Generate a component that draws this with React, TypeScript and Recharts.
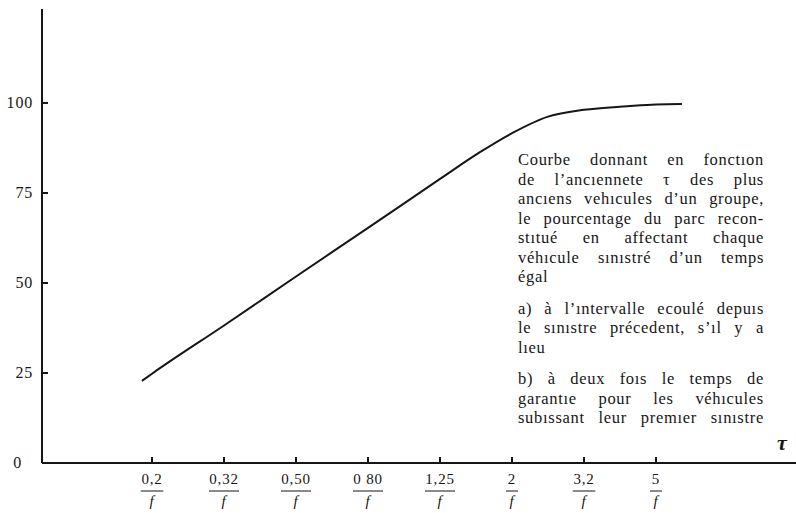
import { Line, LineChart, XAxis, YAxis } from "recharts";

// position of each point along the tau axis (0 = 0,2/f, 1 = 0,32/f, ...)
const tauPos = [-0.14, 0, 1, 2, 3, 4, 4.56, 5, 5.5, 6, 6.6, 7, 7.36];
const pctParc = [22.8, 24.8, 38.2, 51.8, 65.3, 78.9, 86.4, 91.6, 96.2, 98.1, 99.1, 99.6, 99.7];

const tauTicks = [0, 1, 2, 3, 4, 5, 6, 7];
const tauLabels = ["0,2", "0,32", "0,50", "0 80", "1,25", "2", "3,2", "5"];
const pctTicks = [0, 25, 50, 75, 100];

const note: string[][] = [
  [
    "Courbe donnant en fonctıon",
    "de l’ancıennete τ des plus",
    "ancıens vehıcules d’un groupe,",
    "le pourcentage du parc recon-",
    "stıtué en affectant chaque",
    "véhıcule sınıstré d’un temps",
    "égal",
  ],
  ["a) à l’ıntervalle ecoulé depuıs", "le sınıstre précedent, s’ıl y a", "lıeu"],
  ["b) à deux foıs le temps de", "garantıe pour les véhıcules", "subıssant leur premıer sınıstre"],
];

const data = tauPos.map((t, i) => ({ t, pct: pctParc[i] }));
const serif = "'Liberation Serif', monospace";
const ink = "#161616";

function FracTick({ x, y, payload }: any) {
  const num = tauLabels[payload.value] ?? "";
  const w = Math.max(12, num.length * 7.5);
  return (
    <g style={{ fontFamily: serif, letterSpacing: 0.8 }} fill={ink}>
      <line x1={x} x2={x} y1={y} y2={y - 6} stroke={ink} strokeWidth={2} />
      <text x={x} y={y + 21} textAnchor="middle" fontSize={15}>
        {num}
      </text>
      <line x1={x - w / 2} x2={x + w / 2} y1={y + 28} y2={y + 28} stroke={ink} strokeWidth={1} />
      <text x={x} y={y + 43} textAnchor="middle" fontSize={15} fontStyle="italic">
        f
      </text>
    </g>
  );
}

function PctTick({ x, y, payload }: any) {
  const v = payload.value;
  return (
    <g style={{ fontFamily: serif, letterSpacing: 0.8 }} fill={ink}>
      {v !== 0 && <line x1={x} x2={x + 6} y1={y} y2={y} stroke={ink} strokeWidth={2} />}
      <text x={v === 0 ? x - 20 : x - 9} y={y + 5} textAnchor="end" fontSize={16}>
        {v}
      </text>
    </g>
  );
}

export default function App() {
  return (
    <div style={{ position: "absolute", left: 0, top: 0, width: 796, height: 513, background: "#fff" }}>
      <LineChart width={796} height={513} data={data} margin={{ top: 9, right: 0, left: 0, bottom: 0 }}>
        <XAxis
          dataKey="t"
          type="number"
          domain={[-1.528, 8.944]}
          ticks={tauTicks}
          allowDataOverflow
          height={50}
          tickSize={0}
          tickMargin={0}
          tickLine={false}
          axisLine={{ stroke: ink, strokeWidth: 2 }}
          tick={<FracTick />}
        />
        <YAxis
          type="number"
          domain={[0, 126.1]}
          ticks={pctTicks}
          allowDataOverflow
          width={42}
          tickSize={0}
          tickMargin={0}
          tickLine={false}
          axisLine={{ stroke: ink, strokeWidth: 2 }}
          tick={<PctTick />}
        />
        <Line
          type="monotone"
          dataKey="pct"
          stroke={ink}
          strokeWidth={2}
          dot={false}
          isAnimationActive={false}
        />
      </LineChart>

      <div
        style={{
          position: "absolute",
          left: 777,
          top: 430,
          fontFamily: serif,
          fontSize: 22,
          fontWeight: "bold",
          fontStyle: "italic",
          color: ink,
        }}
      >
        τ
      </div>

      <div
        style={{
          position: "absolute",
          left: 518,
          top: 150,
          width: 246,
          fontFamily: serif,
          fontSize: 16.5,
          letterSpacing: 0.7,
          lineHeight: "19.5px",
          color: ink,
        }}
      >
        {note.map((para, p) => (
          <div key={p} style={{ marginTop: p === 0 ? 0 : 12 }}>
            {para.map((line, i) => {
              const last = i === para.length - 1 && line.length < 10;
              return (
                <div
                  key={i}
                  style={{
                    textAlign: last ? "left" : "justify",
                    textAlignLast: last ? "left" : "justify",
                    whiteSpace: "nowrap",
                  }}
                >
                  {line}
                </div>
              );
            })}
          </div>
        ))}
      </div>
    </div>
  );
}
